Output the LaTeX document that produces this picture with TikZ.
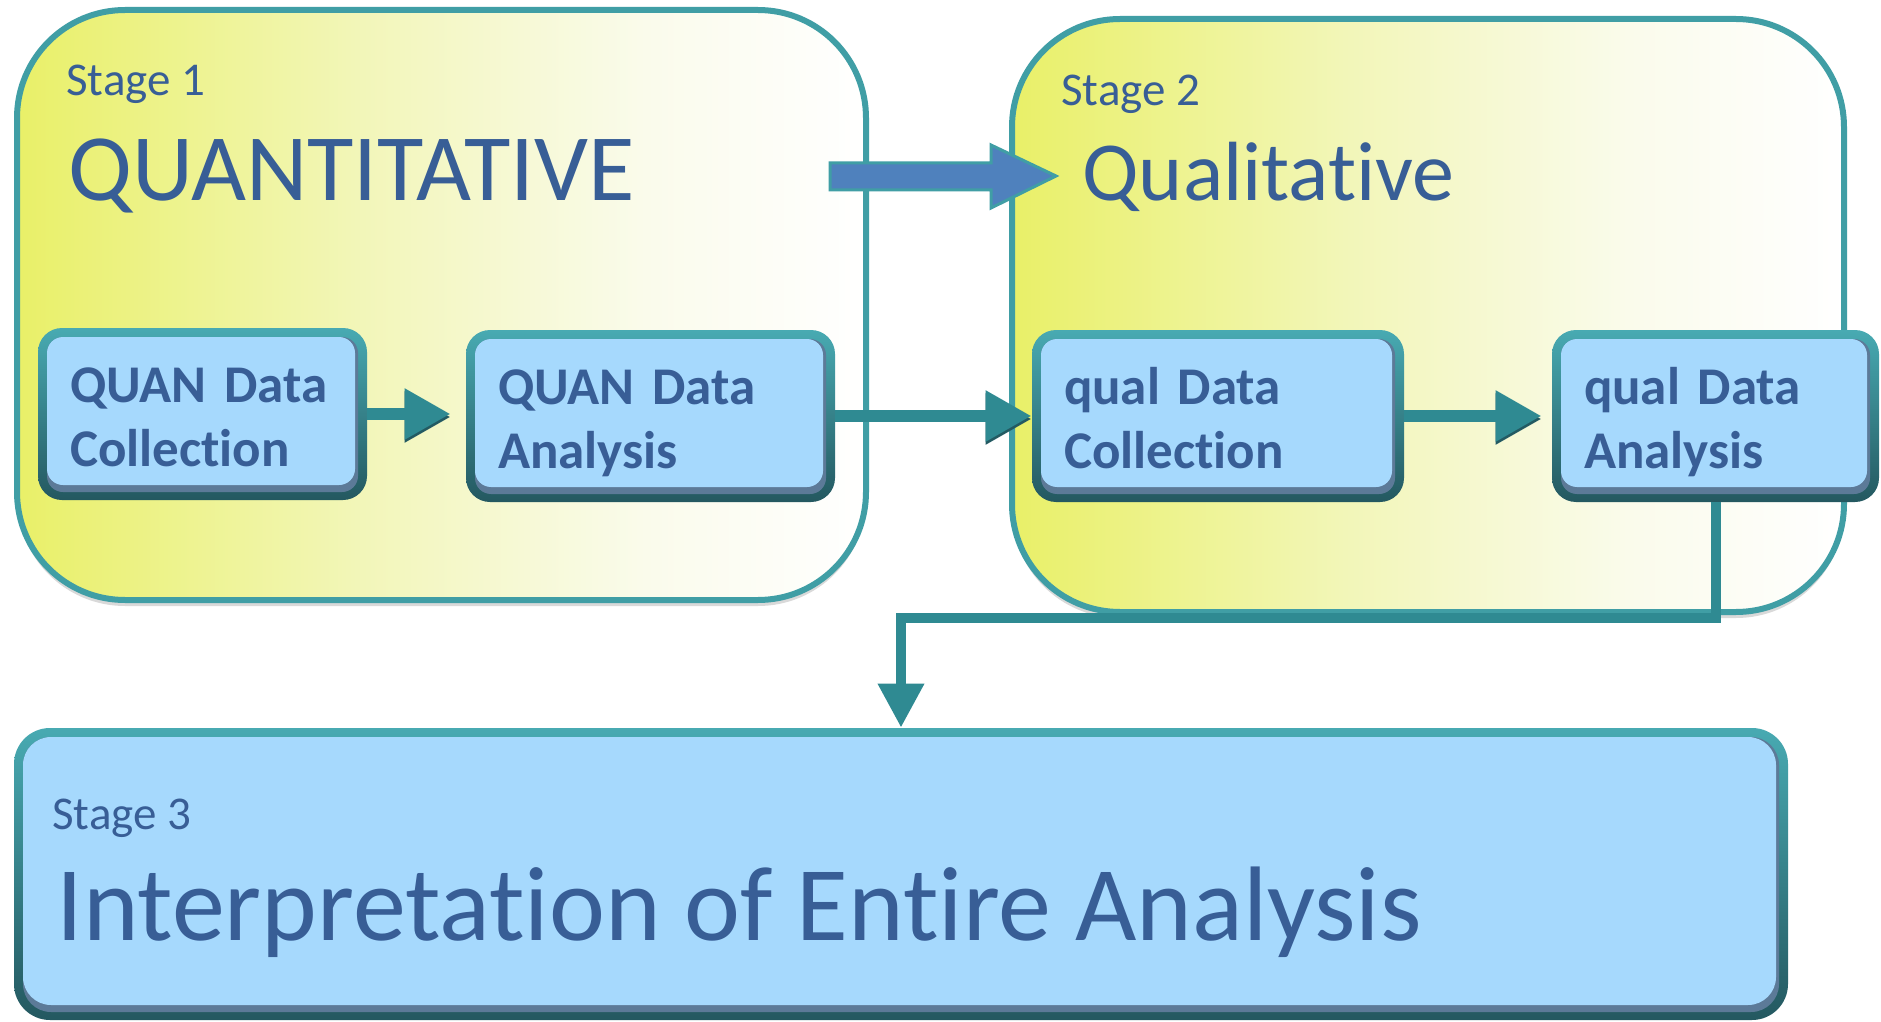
\documentclass[tikz,border=0pt]{standalone}
\usepackage{fontspec}
\setmainfont{Carlito}[Ligatures=NoCommon]
\usetikzlibrary{arrows.meta}

\definecolor{txtblue}{RGB}{56,94,150}
\definecolor{stageteal}{RGB}{64,158,165}
\definecolor{yel}{RGB}{233,240,104}
\definecolor{yelb}{RGB}{242,246,184}
\definecolor{yelc}{RGB}{250,251,235}
\definecolor{boxblue}{RGB}{166,217,253}
\definecolor{bevtop}{RGB}{72,170,178}
\definecolor{bevbot}{RGB}{36,88,96}
\definecolor{innerbot}{RGB}{92,122,152}
\definecolor{connc}{RGB}{47,138,146}
\definecolor{conndark}{RGB}{35,90,98}
\definecolor{arrowblue}{RGB}{79,129,189}

\pgfdeclarehorizontalshading{stageshade}{100bp}{color(0bp)=(yel); color(25bp)=(yel); color(45bp)=(yelb); color(62bp)=(yelc); color(75bp)=(white); color(100bp)=(white)}

\tikzset{
  stagebox/.style={rectangle, draw=stageteal, line width=3pt, rounded corners=54pt,
    shading=stageshade, inner sep=0pt,
    preaction={fill=black!15, transform canvas={yshift=-3pt}}},
  bevel/.style={rectangle, rounded corners=#1, top color=bevtop, bottom color=bevbot,
    path picture={
      \fill[innerbot, rounded corners=#1-4pt]
        ([shift={(4.5pt,4pt)}]path picture bounding box.south west) rectangle
        ([shift={(-4.5pt,-4.5pt)}]path picture bounding box.north east);
      \fill[boxblue, rounded corners=#1-4pt]
        ([shift={(4.5pt,7.5pt)}]path picture bounding box.south west) rectangle
        ([shift={(-6pt,-4.5pt)}]path picture bounding box.north east);
    }},
  smallbox/.style={bevel=12pt, inner xsep=16pt, inner ysep=0pt,
    font=\bfseries\fontsize{26.5}{32}\selectfont, text=txtblue, align=left,
    text height=20pt, text depth=32pt, minimum height=86pt},
  lbl/.style={inner sep=0pt, anchor=base west, text=txtblue},
  connector/.style={draw=connc, line width=6pt, -{Triangle[length=23pt,width=24pt]},
    preaction={draw=conndark, transform canvas={yshift=-1.5pt}}},
  bentconn/.style={draw=connc, line width=5pt, -{Triangle[length=22pt,width=22pt]},
    preaction={draw=conndark, transform canvas={yshift=-1.5pt}}},
}

\begin{document}
\begin{tikzpicture}[x=0.5pt, y=-0.5pt]
\useasboundingbox[fill=white] (0,0) rectangle (1881,1022);

% stage containers
\node[stagebox, minimum width=424.5pt, minimum height=295pt] (s1) at (441.5,305) {};
\node[stagebox, minimum width=416pt, minimum height=296.5pt] (s2) at (1428,315.5) {};

\node[lbl, font=\fontsize{23.5}{28}\selectfont] (s1lbl) at (66,96) {Stage 1};
\node[lbl, font=\fontsize{47.5}{57}\selectfont] (s1title) at (68,200) {QUANTITATIVE};
\node[lbl, font=\fontsize{23.5}{28}\selectfont] (s2lbl) at (1061,106) {Stage 2};
\node[lbl, font=\fontsize{42}{50}\selectfont] (s2title) at (1082,200) {Qualitative};

% big block arrow from stage 1 to stage 2
\draw[fill=arrowblue, draw=stageteal, line width=1.5pt, line join=miter]
  (830,163) -- (991,163) -- (991,145) -- (1056,176) -- (991,208) -- (991,190) -- (830,190) -- cycle;

% stage 3
\node[bevel=18pt, minimum width=887pt, minimum height=146pt, inner sep=0pt] (s3) at (901,874) {};
\node[lbl, font=\fontsize{23.5}{28}\selectfont] (s3lbl) at (52,829) {Stage 3};
\node[lbl, font=\fontsize{53}{62}\selectfont] (s3title) at (56,940) {Interpretation of Entire Analysis};

% process boxes
\node[smallbox, minimum width=164.5pt, text width=132.5pt] (c1) at (202.5,414) {QUAN Data\\Collection};
\node[smallbox, minimum width=184.5pt, text width=152.5pt] (a1) at (650.5,416) {QUAN Data\\Analysis};
\node[smallbox, minimum width=186pt, text width=154pt] (c2) at (1218,416) {qual Data\\Collection};
\node[smallbox, minimum width=163.5pt, text width=131.5pt] (a2) at (1715.5,416) {qual Data\\Analysis};

% connectors
\draw[connector, shorten >=7.5pt] (c1.east) -- (c1.east -| a1.west);
\draw[connector] (a1.east) -- (a1.east -| c2.west);
\draw[connector, shorten >=5pt] (c2.east) -- (c2.east -| a2.west);
\draw[bentconn] (a2.south) -- ++(0,116) -| (s3.north);
\end{tikzpicture}
\end{document}
